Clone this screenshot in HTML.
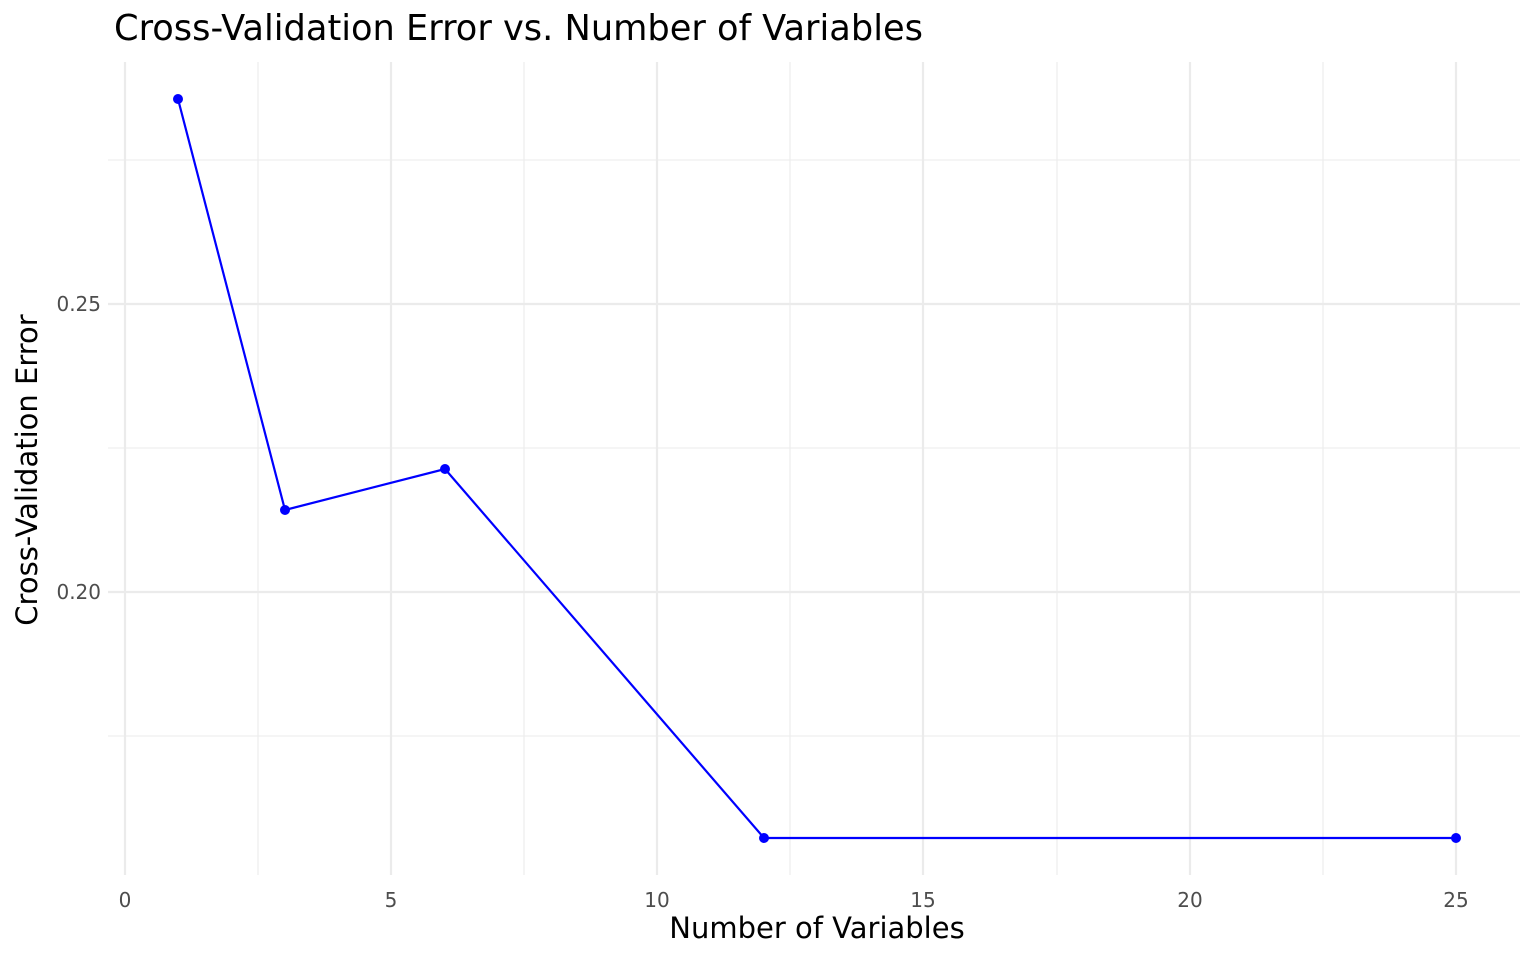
<!DOCTYPE html>
<html><head><meta charset="utf-8"><style>
html,body{margin:0;padding:0;background:#fff;}
svg{display:block;font-family:"DejaVu Sans","Liberation Sans",sans-serif;}
</style></head><body>
<svg width="1536" height="960" viewBox="0 0 1536 960" xmlns="http://www.w3.org/2000/svg">
<rect width="1536" height="960" fill="#fff"/>
<g stroke="#ebebeb" stroke-width="1.1">
<line x1="108" x2="1520" y1="160" y2="160"/>
<line x1="108" x2="1520" y1="448" y2="448"/>
<line x1="108" x2="1520" y1="736" y2="736"/>
<line y1="62" y2="875" x1="258" x2="258"/>
<line y1="62" y2="875" x1="524" x2="524"/>
<line y1="62" y2="875" x1="790" x2="790"/>
<line y1="62" y2="875" x1="1057" x2="1057"/>
<line y1="62" y2="875" x1="1323" x2="1323"/>
</g>
<g stroke="#ebebeb" stroke-width="2.2">
<line x1="108" x2="1520" y1="304" y2="304"/>
<line x1="108" x2="1520" y1="592" y2="592"/>
<line y1="62" y2="875" x1="125" x2="125"/>
<line y1="62" y2="875" x1="391" x2="391"/>
<line y1="62" y2="875" x1="657" x2="657"/>
<line y1="62" y2="875" x1="923" x2="923"/>
<line y1="62" y2="875" x1="1190" x2="1190"/>
<line y1="62" y2="875" x1="1456" x2="1456"/>
</g>
<polyline points="178,99 285,510 445,469 764,838 1456,838" fill="none" stroke="#0000ff" stroke-width="2.2"/>
<g fill="#0000ff">
<circle cx="178" cy="99" r="5"/><circle cx="285" cy="510" r="5"/><circle cx="445" cy="469" r="5"/>
<circle cx="764" cy="838" r="5"/><circle cx="1456" cy="838" r="5"/>
</g>
<g fill="#4d4d4d" font-size="20" text-anchor="end">
<text x="101" y="311">0.25</text>
<text x="101" y="599">0.20</text>
</g>
<g fill="#4d4d4d" font-size="20" text-anchor="middle">
<text x="125" y="907">0</text><text x="391" y="907">5</text><text x="657" y="907">10</text>
<text x="923" y="907">15</text><text x="1190" y="907">20</text><text x="1456" y="907">25</text>
</g>
<text x="817" y="938" font-size="29" text-anchor="middle" fill="#000">Number of Variables</text>
<text transform="translate(37,470) rotate(-90)" font-size="29" text-anchor="middle" fill="#000">Cross-Validation Error</text>
<text x="114" y="40" font-size="35.2" fill="#000">Cross-Validation Error vs. Number of Variables</text>
</svg>
</body></html>
